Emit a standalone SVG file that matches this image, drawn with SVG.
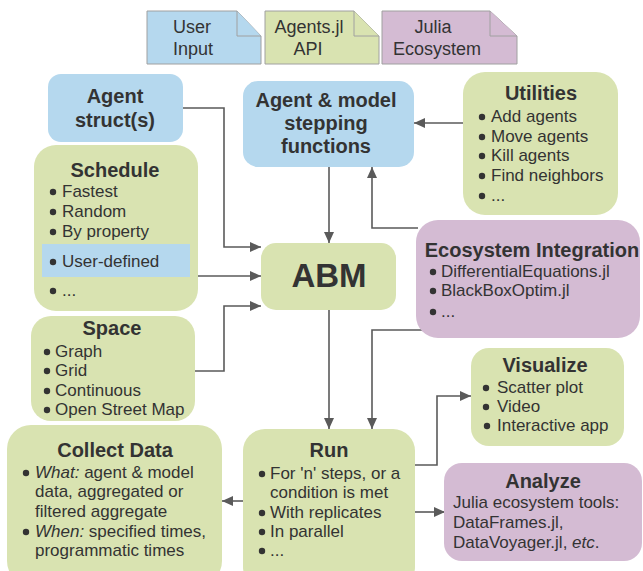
<svg xmlns="http://www.w3.org/2000/svg" width="643" height="571" viewBox="0 0 643 571">
<style>
text{font-family:"Liberation Sans",Arial,sans-serif;fill:#333333}
.t{font-size:20px;font-weight:bold;text-anchor:middle}
.i{font-size:17px}
.lg{font-size:18px;text-anchor:middle}
.blue{fill:#b5d8ee}
.green{fill:#d9e3b1}
.purple{fill:#d4bbd3}
.note{stroke:#a0a0a0;stroke-width:1}
.b{fill:#333333}
.c{fill:none;stroke:#5a5a5a;stroke-width:1.6;marker-end:url(#ah)}
</style>
<defs>
<marker id="ah" markerUnits="userSpaceOnUse" markerWidth="12" markerHeight="10" refX="11" refY="5" orient="auto">
<path d="M0,0 L11,5 L0,10 Z" fill="#5a5a5a"/>
</marker>
</defs>

<g id="legend-user-input">
<path class="blue note" d="M147,11 H237 L261,36 V64 H147 Z"/>
<path class="blue note" d="M237,11 V36 H261"/>
<text class="lg" x="192" y="33">User</text>
<text class="lg" x="193" y="55">Input</text>
</g>
<g id="legend-agents-api">
<path class="green note" d="M265,11 H354 L379,36 V64 H265 Z"/>
<path class="green note" d="M354,11 V36 H379"/>
<text class="lg" x="309" y="33">Agents.jl</text>
<text class="lg" x="308" y="55">API</text>
</g>
<g id="legend-julia-ecosystem">
<path class="purple note" d="M382,11 H490 L517,36 V64 H382 Z"/>
<path class="purple note" d="M490,11 V36 H517"/>
<text class="lg" x="433" y="33">Julia</text>
<text class="lg" x="437" y="55">Ecosystem</text>
</g>

<g id="connectors">
<path class="c" d="M183,108 H224 V247 H261"/>
<path class="c" d="M198,276 H261"/>
<path class="c" d="M195,371 H224 V306 H261"/>
<path class="c" d="M329,167 V243"/>
<path class="c" d="M463,123 H414"/>
<path class="c" d="M418,228 H372 V167"/>
<path class="c" d="M424,330 H372 V429"/>
<path class="c" d="M329,310 V429"/>
<path class="c" d="M415,465 H437 V396 H471"/>
<path class="c" d="M415,512 H445"/>
<path class="c" d="M243,501 H222"/>
</g>

<g id="agent-struct">
<rect class="blue" x="48" y="74" width="135" height="68" rx="13"/>
<text class="t" x="115" y="103">Agent</text>
<text class="t" x="115" y="127">struct(s)</text>
</g>

<g id="schedule">
<rect class="green" x="34" y="145" width="164" height="166" rx="22"/>
<rect class="blue" x="42" y="244" width="148" height="33"/>
<text class="t" x="115" y="177">Schedule</text>
<circle class="b" cx="53" cy="192" r="3.2"/><text class="i" x="62" y="197">Fastest</text>
<circle class="b" cx="53" cy="212" r="3.2"/><text class="i" x="62" y="217">Random</text>
<circle class="b" cx="53" cy="232" r="3.2"/><text class="i" x="62" y="237">By property</text>
<circle class="b" cx="53" cy="262" r="3.2"/><text class="i" x="62" y="267">User-defined</text>
<circle class="b" cx="53" cy="291" r="3.2"/><text class="i" x="62" y="296">...</text>
</g>

<g id="space">
<rect class="green" x="31" y="316" width="164" height="105" rx="20"/>
<text class="t" x="112" y="335">Space</text>
<circle class="b" cx="47" cy="352" r="3.2"/><text class="i" x="55" y="357">Graph</text>
<circle class="b" cx="47" cy="371" r="3.2"/><text class="i" x="55" y="376">Grid</text>
<circle class="b" cx="47" cy="391" r="3.2"/><text class="i" x="55" y="396">Continuous</text>
<circle class="b" cx="47" cy="410" r="3.2"/><text class="i" x="55" y="415">Open Street Map</text>
</g>

<g id="stepping-functions">
<rect class="blue" x="243" y="81" width="171" height="86" rx="15"/>
<text class="t" x="326" y="107">Agent &amp; model</text>
<text class="t" x="326" y="130">stepping</text>
<text class="t" x="326" y="153">functions</text>
</g>

<g id="utilities">
<rect class="green" x="463" y="72" width="155" height="143" rx="22"/>
<text class="t" x="541" y="100">Utilities</text>
<circle class="b" cx="482" cy="117" r="3.2"/><text class="i" x="491" y="122">Add agents</text>
<circle class="b" cx="482" cy="137" r="3.2"/><text class="i" x="491" y="142">Move agents</text>
<circle class="b" cx="482" cy="156" r="3.2"/><text class="i" x="491" y="161">Kill agents</text>
<circle class="b" cx="482" cy="176" r="3.2"/><text class="i" x="491" y="181">Find neighbors</text>
<circle class="b" cx="482" cy="196" r="3.2"/><text class="i" x="491" y="201">...</text>
</g>

<g id="abm">
<rect class="green" x="261" y="243" width="135" height="67" rx="15"/>
<text x="329" y="287" style="font-size:33px;font-weight:bold;text-anchor:middle">ABM</text>
</g>

<g id="ecosystem-integration">
<rect class="purple" x="416" y="220" width="224" height="118" rx="22"/>
<text class="t" x="532" y="257">Ecosystem Integration</text>
<circle class="b" cx="433" cy="272" r="3.2"/><text class="i" x="441" y="277">DifferentialEquations.jl</text>
<circle class="b" cx="433" cy="291" r="3.2"/><text class="i" x="441" y="296">BlackBoxOptim.jl</text>
<circle class="b" cx="433" cy="312" r="3.2"/><text class="i" x="441" y="317">...</text>
</g>

<g id="visualize">
<rect class="green" x="471" y="348" width="153" height="98" rx="18"/>
<text class="t" x="545" y="372">Visualize</text>
<circle class="b" cx="486" cy="388" r="3.2"/><text class="i" x="497" y="393">Scatter plot</text>
<circle class="b" cx="486" cy="407" r="3.2"/><text class="i" x="497" y="412">Video</text>
<circle class="b" cx="487" cy="426" r="3.2"/><text class="i" x="497" y="431">Interactive app</text>
</g>

<g id="run">
<rect class="green" x="243" y="429" width="172" height="160" rx="22"/>
<text class="t" x="329" y="457">Run</text>
<circle class="b" cx="262" cy="474" r="3.2"/><text class="i" x="270" y="479">For 'n' steps, or a</text>
<text class="i" x="270" y="498">condition is met</text>
<circle class="b" cx="262" cy="513" r="3.2"/><text class="i" x="270" y="518">With replicates</text>
<circle class="b" cx="262" cy="532" r="3.2"/><text class="i" x="270" y="537">In parallel</text>
<circle class="b" cx="262" cy="551" r="3.2"/><text class="i" x="270" y="556">...</text>
</g>

<g id="analyze">
<rect class="purple" x="444" y="463" width="198" height="98" rx="18"/>
<text class="t" x="543" y="488">Analyze</text>
<text class="i" x="453" y="508">Julia ecosystem tools:</text>
<text class="i" x="453" y="528">DataFrames.jl,</text>
<text class="i" x="453" y="548">DataVoyager.jl, <tspan font-style="italic">etc</tspan>.</text>
</g>

<g id="collect-data">
<rect class="green" x="7" y="425" width="215" height="160" rx="24"/>
<text class="t" x="115" y="457">Collect Data</text>
<circle class="b" cx="26" cy="473" r="3.2"/><text class="i" x="35" y="478"><tspan font-style="italic">What:</tspan> agent &amp; model</text>
<text class="i" x="35" y="497">data, aggregated or</text>
<text class="i" x="35" y="517">filtered aggregate</text>
<circle class="b" cx="26" cy="532" r="3.2"/><text class="i" x="35" y="537"><tspan font-style="italic">When:</tspan> specified times,</text>
<text class="i" x="35" y="556">programmatic times</text>
</g>
</svg>
